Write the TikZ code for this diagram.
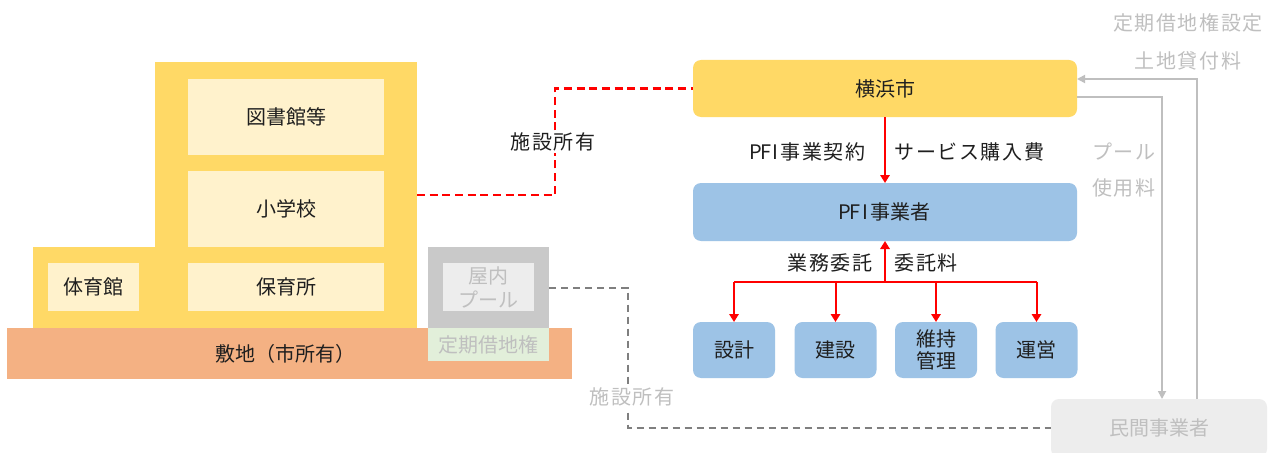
\documentclass[tikz,border=0pt]{standalone}
\usepackage{fontspec}
\setmainfont{Noto Sans CJK JP}
\usetikzlibrary{arrows.meta}
\definecolor{yel}{HTML}{FFD966}
\definecolor{lyel}{HTML}{FFF2CC}
\definecolor{org}{HTML}{F4B183}
\definecolor{blu}{HTML}{9DC3E6}
\definecolor{gry}{HTML}{C9C9C9}
\definecolor{lgry}{HTML}{EDEDED}
\definecolor{grn}{HTML}{E2EFDA}
\definecolor{gtxt}{HTML}{BFBFBF}
\definecolor{dtxt}{HTML}{1F1F1F}
\definecolor{dgry}{HTML}{7F7F7F}
\definecolor{redc}{HTML}{FF0000}
\newcommand\hw[1]{\makebox[0.5em]{#1}}
\newcommand\PFI{\hw{P}\hw{F}\hw{I}}
\tikzset{
  blk/.style={draw=none, inner sep=0pt, outer sep=0pt, font=\fontsize{15}{19}\selectfont, text=dtxt, align=center},
  rbox/.style={blk, rounded corners=6pt},
  lbl/.style={font=\fontsize{15}{19}\selectfont\addfontfeature{LetterSpace=8}, inner sep=1pt, text=dtxt},
  glbl/.style={lbl, text=gtxt},
  redarrow/.style={draw=redc, line width=1.5pt, -{Triangle[length=6pt,width=7pt]}},
  redline/.style={draw=redc, line width=1.5pt},
  reddash/.style={draw=redc, line width=1.8pt, dash pattern=on 6pt off 3.5pt},
  graydash/.style={draw=dgry, line width=1.5pt, dash pattern=on 5.5pt off 3.5pt},
  grayarrow/.style={draw=gtxt, line width=1.3pt, -{Triangle[length=6pt,width=6pt]}}
}
\begin{document}
\begin{tikzpicture}[x=0.75pt,y=-0.75pt]
\useasboundingbox (0,0) rectangle (1274,453);
\fill[white] (0,0) rectangle (1274,453);

% building
\node[blk, fill=yel, minimum width=262*0.75pt, minimum height=266*0.75pt] (tall) at (286,195) {};
\node[blk, fill=yel, minimum width=122*0.75pt, minimum height=81*0.75pt] (low) at (94,287.5) {};
\node[blk, fill=lyel, minimum width=196*0.75pt, minimum height=76*0.75pt] (lib) at (286,117) {図書館等};
\node[blk, fill=lyel, minimum width=196*0.75pt, minimum height=76*0.75pt] (school) at (286,209) {小学校};
\node[blk, fill=lyel, minimum width=196*0.75pt, minimum height=48*0.75pt] (nursery) at (286,287) {保育所};
\node[blk, fill=lyel, minimum width=91*0.75pt, minimum height=48*0.75pt] (gym) at (93.5,287) {体育館};
\node[blk, fill=org, minimum width=565*0.75pt, minimum height=51*0.75pt] (ground) at (289.5,353.5) {};
\node[blk] (groundtxt) at (285,354) {敷地（市所有）};
\node[blk, fill=gry, minimum width=121*0.75pt, minimum height=81*0.75pt] (poolout) at (488.5,287.5) {};
\node[blk, fill=lgry, minimum width=91*0.75pt, minimum height=48*0.75pt, text=gtxt, font=\fontsize{15}{18}\selectfont] (poolin) at (488.5,287) {屋内\\プール};
\node[blk, fill=grn, minimum width=121*0.75pt, minimum height=33*0.75pt, text=gtxt] (lease) at (488.5,344.5) {定期借地権};

% right side
\node[rbox, fill=yel, minimum width=384*0.75pt, minimum height=57*0.75pt] (city) at (885,88.5) {横浜市};
\node[rbox, fill=blu, minimum width=384*0.75pt, minimum height=58*0.75pt] (pfi) at (885,212) {\PFI 事業者};
\node[rbox, fill=blu, minimum width=82*0.75pt, minimum height=56*0.75pt] (s1) at (734,350) {設計};
\node[rbox, fill=blu, minimum width=82*0.75pt, minimum height=56*0.75pt] (s2) at (835.5,350) {建設};
\node[rbox, fill=blu, minimum width=82*0.75pt, minimum height=56*0.75pt] (s3) at (936,350) {維持\\[-3pt]管理};
\node[rbox, fill=blu, minimum width=82*0.75pt, minimum height=56*0.75pt] (s4) at (1036.5,350) {運営};
\node[rbox, fill=lgry, minimum width=216*0.75pt, minimum height=58*0.75pt, text=gtxt] (private) at (1159,428) {民間事業者};

% connectors left
\draw[reddash] (tall.east) -- ++(138,0) |- (city.west);
\node[lbl, fill=white] (own1) at (553,142) {施設所有};
\draw[graydash] (poolout.east) -- ++(79,0) |- (private.west);
\node[lbl, fill=white, text=gtxt] (own2) at (632,397) {施設所有};

% PFI arrows
\draw[redarrow] (city.south) -- (pfi.north);
\node[lbl, anchor=east] (contract) at (867,152) {\PFI 事業契約};
\node[lbl, anchor=west] (service) at (893,152) {サービス購入費};
\coordinate (hub) at (885,282);
\draw[redarrow] (hub) -- (pfi.south);
\draw[redline] (s1.north |- hub) -- (s4.north |- hub);
\foreach \s in {s1,s2,s3,s4} \draw[redarrow] (\s.north |- hub) -- (\s.north);
\node[lbl, anchor=east] (itaku) at (874,263) {業務委託};
\node[lbl, anchor=west] (itakuryo) at (893,263) {委託料};

% gray arrows
\draw[grayarrow] (1197,0 |- private.north) |- (city.east |- 0,79);
\draw[grayarrow] (city.east |- 0,97) -| (1162,0 |- private.north);
\node[glbl] (teiki) at (1188,23) {定期借地権設定};
\node[glbl] (tochi) at (1188,61) {土地貸付料};
\node[glbl, anchor=east] (pool1) at (1157,152) {プール};
\node[glbl, anchor=east] (pool2) at (1157,188) {使用料};
\end{tikzpicture}
\end{document}
